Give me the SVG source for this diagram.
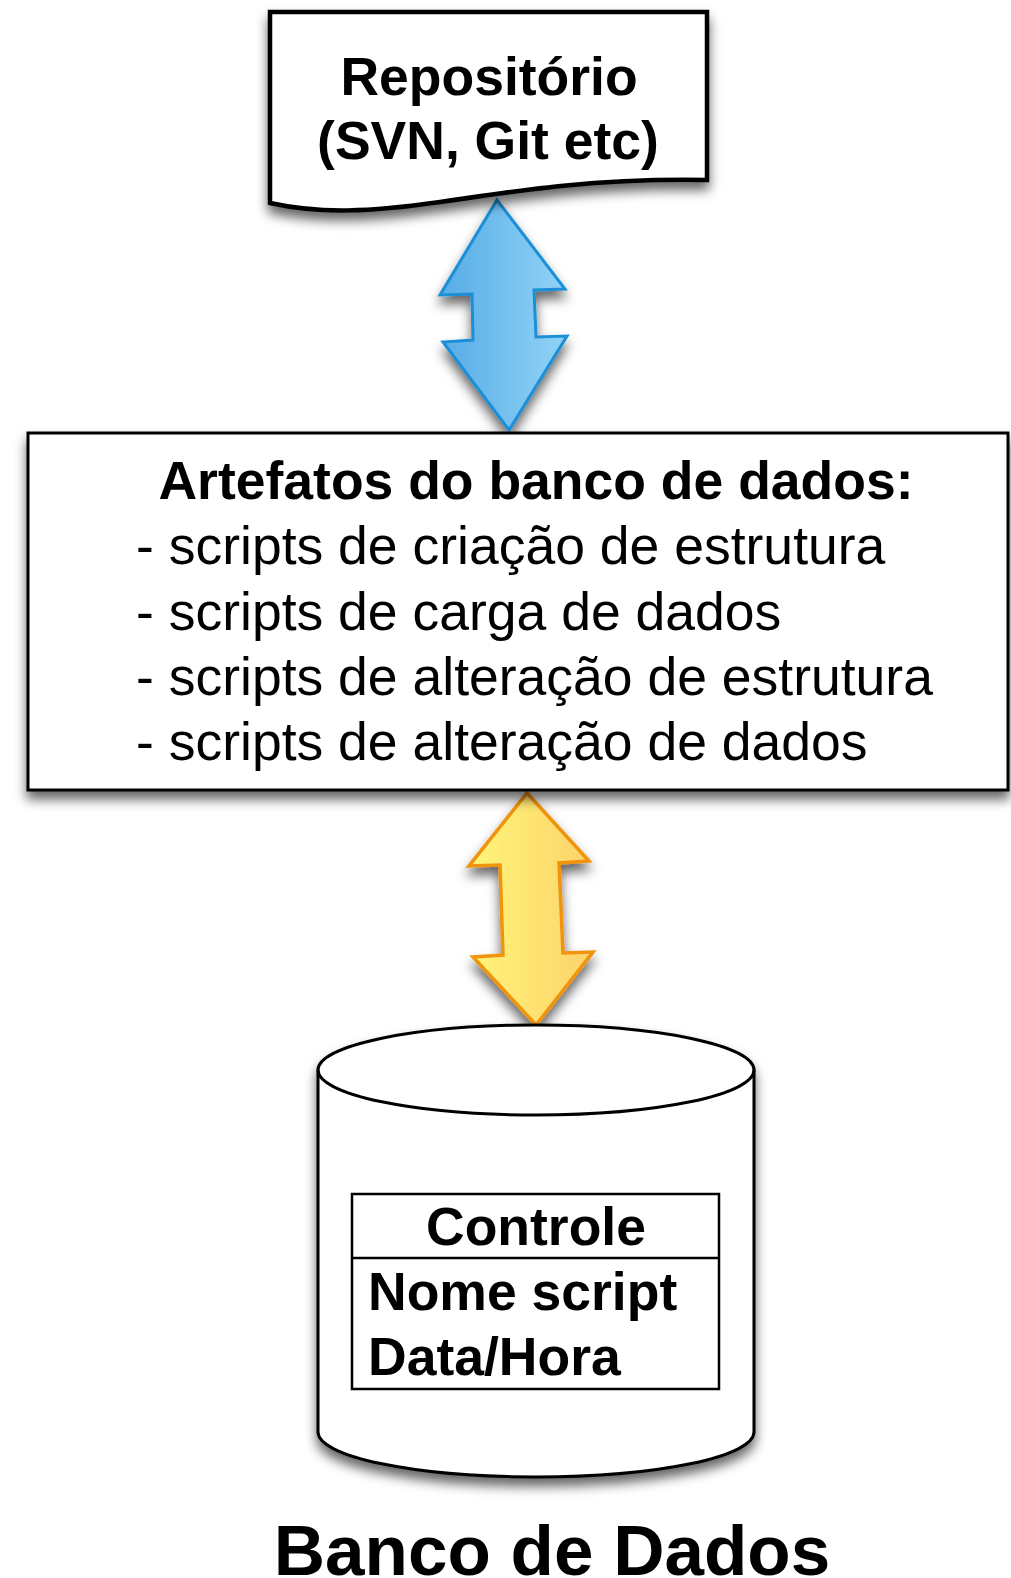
<svg xmlns="http://www.w3.org/2000/svg" width="1011" height="1578" viewBox="0 0 1011 1578">
<defs>
<style>
.b{font-family:"Liberation Sans",Arial,sans-serif;font-weight:bold;font-size:53.5px;fill:#000}
.r{font-family:"Liberation Sans",Arial,sans-serif;font-size:53.5px;fill:#000}
.shape{fill:#fff;stroke:#000}
</style>
<filter id="sh" x="-10%" y="-10%" width="120%" height="130%">
<feDropShadow dx="0" dy="8" stdDeviation="6" flood-color="#000" flood-opacity="0.6"/>
</filter>
<linearGradient id="gBlue" x1="0" y1="0" x2="1" y2="0">
<stop offset="0" stop-color="#56ace6"/>
<stop offset="1" stop-color="#92d3f7"/>
</linearGradient>
<linearGradient id="gYel" x1="0" y1="0" x2="1" y2="0">
<stop offset="0" stop-color="#fff57a"/>
<stop offset="1" stop-color="#fdd26a"/>
</linearGradient>
</defs>
<rect width="1011" height="1578" fill="#fff"/>

<g id="connectors">
<path filter="url(#sh)" d="M497,200 L565,289 L534,290 L536,337 L567,336 L509,430 L443,342 L473,340 L472,294 L440,295 Z" fill="url(#gBlue)" stroke="#1a8fd6" stroke-width="3" stroke-linejoin="miter"/>
<path filter="url(#sh)" d="M527,793 L589,861 L559,863 L563,953 L593,952 L536,1025 L473,957 L503,955 L500,865 L469,866 Z" fill="url(#gYel)" stroke="#f0930e" stroke-width="3.5" stroke-linejoin="miter"/>
</g>

<g id="repositorio">
<path class="shape" filter="url(#sh)" stroke-width="4.5" d="M270,12 L707,12 L707,180 C600,178 520,190 440,202 C370,212 320,214 270,203 Z"/>
<text class="b" x="489" y="95" text-anchor="middle">Repositório</text>
<text class="b" x="488" y="159" text-anchor="middle">(SVN, Git etc)</text>
</g>

<g id="artefatos">
<rect class="shape" filter="url(#sh)" stroke-width="3" x="28" y="433" width="980" height="357"/>
<text class="b" x="536" y="499" text-anchor="middle">Artefatos do banco de dados:</text>
<text class="r" x="136" y="564">- scripts de criação de estrutura</text>
<text class="r" x="136" y="630">- scripts de carga de dados</text>
<text class="r" x="136" y="695">- scripts de alteração de estrutura</text>
<text class="r" x="136" y="760">- scripts de alteração de dados</text>
</g>

<g id="banco">
<path class="shape" filter="url(#sh)" stroke-width="3" d="M318,1070 A218,45 0 0 1 754,1070 L754,1432 A218,45 0 0 1 318,1432 Z"/>
<path fill="none" stroke="#000" stroke-width="3" d="M318,1070 A218,45 0 0 0 754,1070"/>
<g id="controle">
<rect x="352" y="1194" width="367" height="195" fill="#fff" stroke="#000" stroke-width="2.5"/>
<line x1="352" y1="1258" x2="719" y2="1258" stroke="#000" stroke-width="2.5"/>
<text class="b" x="536" y="1245" text-anchor="middle">Controle</text>
<text class="b" x="368" y="1310">Nome script</text>
<text class="b" x="368" y="1375">Data/Hora</text>
</g>
<text class="b" x="552" y="1575" text-anchor="middle" style="font-size:71px">Banco de Dados</text>
</g>
</svg>
